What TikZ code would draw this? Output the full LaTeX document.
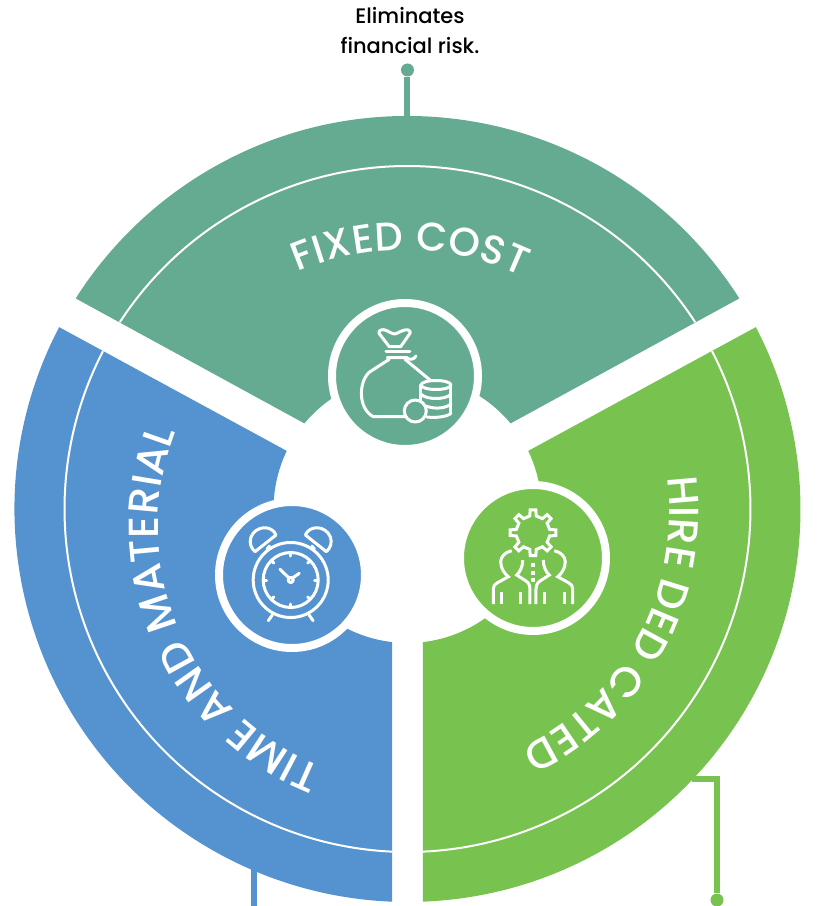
\documentclass[tikz,border=0pt]{standalone}
\usepackage{fontspec}
\usepackage{xcolor}
\usepackage{tikz}
\usetikzlibrary{decorations.text}
\setmainfont{Poppins Medium}
\definecolor{fixedgreen}{RGB}{101,171,145}
\definecolor{timeblue}{RGB}{85,147,208}
\definecolor{hiregreen}{RGB}{120,194,80}
\tikzset{
  iconring/.style={circle,draw=white,line width=8pt,inner sep=0pt,minimum size=146pt},
  iconline/.style={white,line width=3pt,line cap=round,line join=round},
  leader/.style={line width=6pt},
  enddot/.style={circle,inner sep=0pt,minimum size=13pt},
  seamline/.style={white,line width=2pt}
}
\begin{document}
\begin{tikzpicture}[x=1pt,y=1pt]
\useasboundingbox (-407.5,-397) rectangle (415.5,509);
\fill[fixedgreen] (32.4:393) arc[start angle=32.4,end angle=147.6,radius=393pt] -- (140.3:134) arc[start angle=140.3,end angle=39.7,radius=134pt] -- cycle;
\fill[timeblue] (152.43:393) arc[start angle=152.43,end angle=267.74,radius=393pt] -- (263.36:134) arc[start angle=263.36,end angle=154.3,radius=134pt] -- cycle;
\fill[hiregreen] (272.26:393) arc[start angle=272.26,end angle=387.57,radius=393pt] -- (385.7:134) arc[start angle=385.7,end angle=276.64,radius=134pt] -- cycle;
\draw[seamline] (33:343) arc[start angle=33,end angle=147,radius=343pt];
\draw[seamline] (152.6:343) arc[start angle=152.6,end angle=267.4,radius=343pt];
\draw[seamline] (272.6:343) arc[start angle=272.6,end angle=387.4,radius=343pt];
\node[enddot,fill=fixedgreen] (dotFixed) at (0,439) {};
\node[enddot,fill=hiregreen] (dotHire) at (309.5,-391) {};
\coordinate (rimFixed) at (0,392);
\coordinate (rimHire) at (284,-270);
\coordinate (rimTime) at (-153.5,-360);
\coordinate (endTime) at (-153.5,-397);
\draw[leader,fixedgreen] (dotFixed) -- (rimFixed);
\draw[leader,hiregreen] (rimHire) -| (dotHire);
\draw[leader,timeblue] (rimTime) -- (endTime);
\node[align=center,font=\fontsize{21}{30}\selectfont] (caption) at (2.5,478) {Eliminates\\financial risk.};
\path[shift={(-3,-11)},decorate,decoration={text along path,text align={fit to path},text={|\fontsize{40}{40}\selectfont\color{white}|FIXED COST}}] (113.3:270) arc[start angle=113.3,end angle=64.3,radius=270pt];
\path[shift={(9.5,-17)},decorate,decoration={text along path,text align={fit to path},text={|\fontsize{42}{42}\selectfont\color{white}|TIME AND MATERIAL}}] (248.7:259) arc[start angle=248.7,end angle=158.6,radius=259pt];
\path[shift={(3,-5)},decorate,decoration={text along path,text align={fit to path},text={|\fontsize{42}{42}\selectfont\color{white}|HIRE DED CATED}}] (8.2:259) arc[start angle=8.2,end angle=-64.2,radius=259pt];
\node[iconring,fill=fixedgreen] (iconFixed) at (-2.5,133) {};
\node[iconring,fill=timeblue] (iconTime) at (-115.5,-66) {};
\node[iconring,fill=hiregreen] (iconHire) at (125.5,-49) {};
\begin{scope}[shift={(iconFixed)},iconline]
\draw (-15.7,29.3) -- (-26,42.7) .. controls (-27,46) and (-22,47) .. (-20,46) .. controls (-16,45) and (-14,42) .. (-11,42) .. controls (-8,42) and (-5,45) .. (0,46) .. controls (3,47) and (6,45) .. (5,42.7) -- (-4.3,29.3) -- cycle;
\draw (-19,24.3) -- (5,24.3);
\draw (-17.7,18.3) -- (2,18.3) .. controls (4,16) and (9,16) .. (11,20);
\draw (-15.7,16.7) -- (-35,4.3) .. controls (-46,-4) and (-48,-32) .. (-31.7,-40.7) -- (0,-40.7);
\draw (0,16.7) -- (25,-4);
\draw (16,-9) -- (16,-37.3) (46,-9) -- (46,-37.3);
\draw (31,-9) ellipse[x radius=15pt,y radius=4.5pt];
\draw (16,-18) .. controls (20,-24) and (42,-24) .. (46,-18);
\draw (21,-30) .. controls (28,-33) and (40,-33) .. (46,-28);
\draw (22,-41) .. controls (30,-42) and (42,-41) .. (46,-37.3);
\draw[fill=fixedgreen] (10.3,-35) circle[radius=11pt];
\end{scope}
\begin{scope}[shift={(iconTime)},iconline]
\draw (-1.3,-5) circle[radius=37.5pt];
\draw (-1.3,-5) circle[radius=27.5pt];
\draw (-1.3,-5) circle[radius=2.5pt];
\draw (-3,-3) -- (-12,5.7) (0.5,-3) -- (7.3,1.7);
\foreach \ang in {0,45,...,315}
  \draw (-1.3,-5) ++(\ang:24) -- ++(\ang:3);
\draw (-37,23.3) -- (-16,40) .. controls (-20,50) and (-36,50) .. (-41,38) .. controls (-43,32) and (-41,27) .. (-37,23.3);
\draw (34.4,23.3) -- (13.4,40) .. controls (17.4,50) and (33.4,50) .. (38.4,38) .. controls (40.4,32) and (38.4,27) .. (34.4,23.3);
\draw (-25,26) -- (-22.5,29) (22.4,26) -- (19.9,29);
\draw (-23.7,-45.7) -- (-19.7,-40) (21.1,-45.7) -- (17.1,-40);
\end{scope}
\begin{scope}[shift={(iconHire)},iconline,line cap=butt,line join=miter]
\draw[shift={(0,25.3)}] (-11:17) \foreach \ang in {0,45,...,315} { -- (\ang-11:17) -- (\ang-7:23) -- (\ang+7:23) -- (\ang+11:17) } -- cycle;
\foreach \sgn in {1,-1} {
  \draw[xscale=\sgn] (-21.3,7.3) .. controls (-28,6) and (-32.3,1) .. (-32.3,-3.7) .. controls (-32.3,-11) and (-28,-16) .. (-24.7,-18.7) -- (-36,-25) .. controls (-38.5,-26.5) and (-39.7,-28) .. (-39.7,-31) -- (-39.7,-46);
  \draw[xscale=\sgn] (-10.3,-2) .. controls (-10.3,-9) and (-13,-14) .. (-16.3,-17) -- (-7,-23) .. controls (-4,-25) and (-3,-28) .. (-3,-31) -- (-3,-46);
  \draw[xscale=\sgn] (-31.3,-34) -- (-31.3,-46) (-12,-34) -- (-12,-46);
}
\foreach \dy in {-5,-13,-20}
  \fill (-2,\dy) rectangle (2,\dy-4);
\end{scope}
\end{tikzpicture}
\end{document}
